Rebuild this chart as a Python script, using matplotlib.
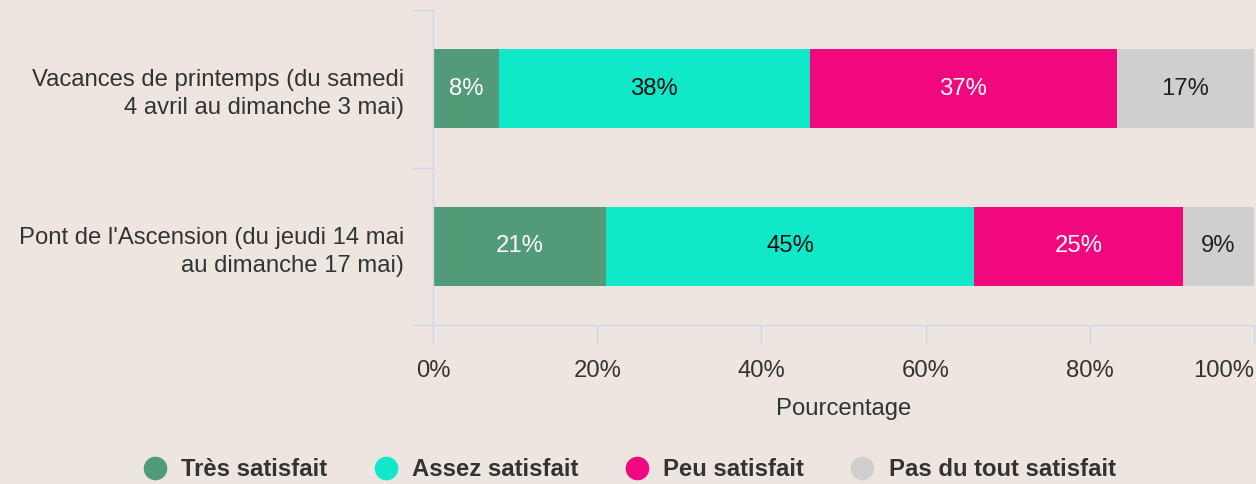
import matplotlib
matplotlib.use("Agg")
import matplotlib.pyplot as plt
from matplotlib.lines import Line2D
import numpy as np

plt.rcParams['font.family'] = ['Liberation Sans', 'DejaVu Sans']

categories = ["Vacances de printemps (du samedi\n4 avril au dimanche 3 mai)",
              "Pont de l'Ascension (du jeudi 14 mai\nau dimanche 17 mai)"]
series_names = ["Très satisfait", "Assez satisfait", "Peu satisfait", "Pas du tout satisfait"]
tres = [8.0, 21.1]
assez = [37.9, 44.8]
peu = [37.4, 25.4]
pas = [16.7, 8.7]
series_values = [tres, assez, peu, pas]
colors = ["#539a78", "#10e9c9", "#f1087f", "#cfcfcf"]
label_colors = ["white", "#111111", "white", "#222222"]
xticks = [0, 20, 40, 60, 80, 100]
xticklabels = ["0%", "20%", "40%", "60%", "80%", "100%"]

bg = "#ede6e0"
axis_col = "#ccd6eb"
FS = 17.2

fig = plt.figure(figsize=(12.56, 4.84), dpi=100, facecolor=bg)
ax = fig.add_axes([433/1256, 1-325/484, (1254-433)/1256, (325-10)/484])
ax.set_facecolor(bg)

y = np.arange(len(categories))
left = np.zeros(len(categories))
for vals, c, lc in zip(series_values, colors, label_colors):
    vals = np.array(vals)
    ax.barh(y, vals, left=left, height=0.5, color=c, edgecolor='none')
    for yi, (l, v) in enumerate(zip(left, vals)):
        ax.text(l + v/2, yi, f"{round(v):d}%", ha='center', va='center',
                color=lc, fontsize=FS, fontweight='normal')
    left = left + vals

ax.set_xlim(0, 100)
ax.set_ylim(1.5, -0.5)
ax.set_xticks(xticks)
ax.set_xticklabels(xticklabels, fontsize=FS, color='#333333')
ax.get_xticklabels()[-1].set_ha('right')
ax.set_yticks(y)
ax.set_yticklabels(categories, fontsize=FS, color='#333333', linespacing=1.35)
ax.set_yticks([-0.5, 0.5, 1.5], minor=True)
ax.tick_params(axis='y', which='major', length=0, pad=21)
ax.tick_params(axis='y', which='minor', length=15, color=axis_col, width=1, direction='out')
ax.tick_params(axis='x', which='major', length=14, color=axis_col, width=1, pad=11)
for s in ['top', 'right']:
    ax.spines[s].set_visible(False)
for s in ['left', 'bottom']:
    ax.spines[s].set_color(axis_col)
    ax.spines[s].set_linewidth(1)
ax.set_xlabel("Pourcentage", fontsize=FS, color='#333333', labelpad=12)

handles = [Line2D([0], [0], marker='o', linestyle='none', markersize=17,
                  markerfacecolor=c, markeredgecolor='none') for c in colors]
leg = fig.legend(handles, series_names, loc='center', bbox_to_anchor=(0.5, 1-470/484),
                 ncol=4, frameon=False, handlelength=1.2, handletextpad=0.5, columnspacing=1.85,
                 prop={'size': FS, 'weight': 'bold'}, borderpad=0)
for t in leg.get_texts():
    t.set_color('#333333')

fig.savefig("out.png", dpi=100, facecolor=bg)
